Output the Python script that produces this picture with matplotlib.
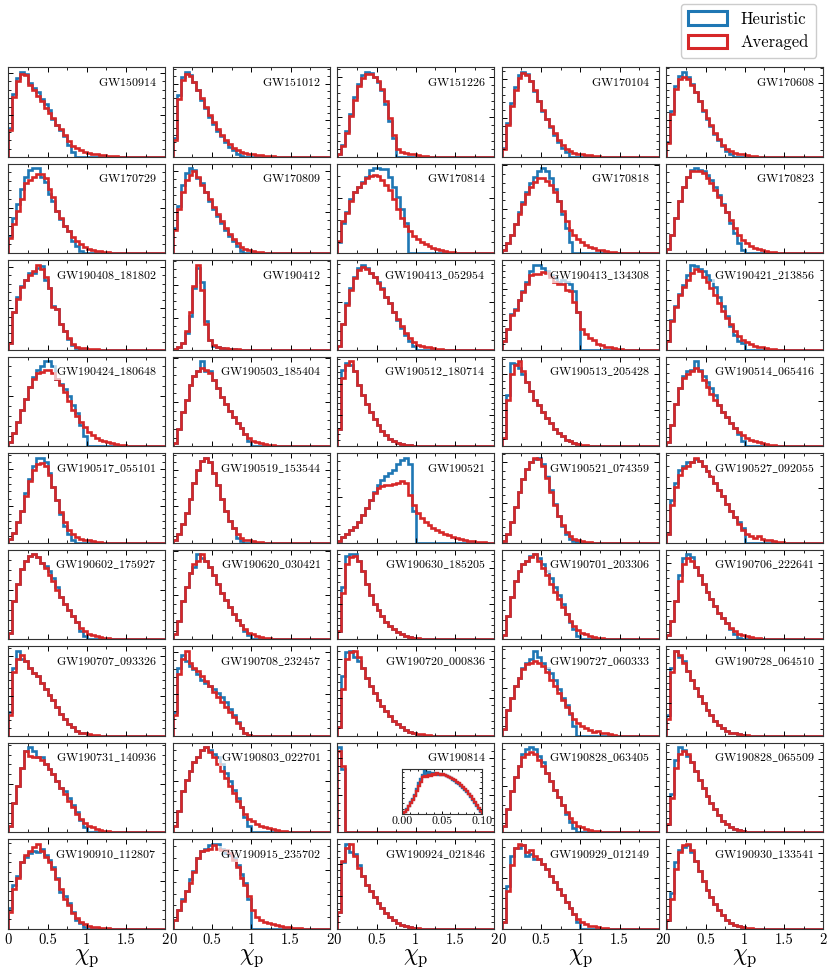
import numpy as np
import matplotlib
matplotlib.use("Agg")
import matplotlib.pyplot as plt
from matplotlib.patches import Patch
from matplotlib.ticker import MultipleLocator, AutoMinorLocator, FuncFormatter, FormatStrFormatter

# ---------------- data (relative bin heights, bins of width 0.05 from 0) ----------------
events = ['GW150914', 'GW151012', 'GW151226', 'GW170104', 'GW170608',
          'GW170729', 'GW170809', 'GW170814', 'GW170818', 'GW170823',
          'GW190408_181802', 'GW190412', 'GW190413_052954', 'GW190413_134308', 'GW190421_213856',
          'GW190424_180648', 'GW190503_185404', 'GW190512_180714', 'GW190513_205428', 'GW190514_065416',
          'GW190517_055101', 'GW190519_153544', 'GW190521', 'GW190521_074359', 'GW190527_092055',
          'GW190602_175927', 'GW190620_030421', 'GW190630_185205', 'GW190701_203306', 'GW190706_222641',
          'GW190707_093326', 'GW190708_232457', 'GW190720_000836', 'GW190727_060333', 'GW190728_064510',
          'GW190731_140936', 'GW190803_022701', 'GW190814', 'GW190828_063405', 'GW190828_065509',
          'GW190910_112807', 'GW190915_235702', 'GW190924_021846', 'GW190929_012149', 'GW190930_133541']

heuristic = [
    [34, 73, 91, 99, 96, 86, 80, 75, 67, 61, 55, 44, 37, 31, 24, 14, 6],
    [22, 72, 94, 100, 96, 88, 78, 67, 57, 47, 39, 31, 24, 17, 12, 8, 4, 1],
    [4, 14, 30, 50, 70, 86, 96, 100, 98, 94, 88, 78, 62, 42, 22],
    [10, 40, 63, 82, 96, 100, 97, 89, 77, 65, 54, 44, 35, 26, 18, 11, 6],
    [18, 55, 85, 98, 103, 96, 88, 78, 67, 56, 46, 37, 28, 20, 13, 7, 3],
    [20, 42, 58, 76, 90, 98, 100, 100, 90, 84, 70, 62, 50, 40, 32, 26, 15, 9, 3],
    [30, 56, 80, 94, 100, 98, 88, 82, 72, 62, 52, 44, 36, 28, 21, 15, 9, 3],
    [13, 36, 48, 64, 72, 78, 84, 90, 98, 100, 100, 99, 99, 90, 78, 66, 52, 36],
    [4, 12, 22, 35, 48, 60, 72, 82, 90, 97, 100, 96, 88, 76, 62, 46, 30, 14],
    [5, 22, 42, 62, 78, 90, 98, 100, 98, 96, 92, 86, 78, 68, 58, 48, 36, 24, 12, 4],
    [8, 45, 62, 75, 82, 90, 90, 96, 98, 82, 72, 52, 48, 30, 22, 13, 6, 2],
    [1, 3, 8, 20, 40, 72, 96, 80, 34, 12, 5, 3, 2, 1.5, 1, 0.7, 0.5, 0.3],
    [5, 30, 55, 72, 86, 96, 100, 96, 90, 85, 80, 72, 62, 55, 45, 35, 26, 17, 10, 5],
    [10.6, 24, 42, 48, 58, 68, 79, 92, 99, 99, 95, 91, 87, 83, 79, 81, 79, 77, 68, 44],
    [10, 35, 52, 66, 76, 88, 100, 98, 95, 92, 88, 82, 74, 62, 52, 40, 28, 18, 10, 8],
    [5, 15, 28, 42, 55, 68, 80, 88, 92, 98, 98, 92, 78, 72, 66, 58, 48, 38, 25, 12],
    [4, 20, 40, 55, 72, 82, 88, 100, 88, 88, 78, 68, 58, 50, 42, 35, 28, 22, 15, 6],
    [20, 90, 98, 95, 88, 72, 60, 50, 40, 32, 25, 18, 13, 9, 6, 4, 3, 2, 1.5, 1],
    [10, 60, 98, 96, 92, 85, 75, 65, 55, 48, 40, 33, 27, 21, 16, 12, 8, 6, 4, 3],
    [5, 25, 50, 68, 82, 88, 90, 100, 90, 82, 75, 68, 60, 48, 40, 34, 28, 22, 15, 6],
    [5, 12, 25, 38, 58, 75, 90, 100, 100, 95, 82, 65, 50, 34, 20, 10, 4],
    [4, 10, 22, 35, 52, 70, 85, 96, 100, 95, 82, 68, 52, 38, 26, 17, 6, 2],
    [2.7, 6.6, 11, 15, 19, 25, 33, 41, 50, 60, 68, 74, 78, 82, 86, 92, 97, 100, 92, 37],
    [2, 10, 25, 42, 60, 75, 87, 95, 98, 100, 92, 78, 62, 46, 32, 20, 11, 5, 2, 1],
    [10, 50, 70, 85, 90, 95, 95, 98, 96, 90, 84, 78, 70, 62, 55, 46, 38, 30, 25, 18],
    [8, 45, 65, 82, 92, 98, 100, 96, 90, 86, 80, 72, 62, 50, 42, 34, 27, 20, 10, 4],
    [6, 22, 45, 62, 78, 85, 100, 95, 92, 85, 75, 65, 55, 46, 38, 30, 23, 17, 10, 5],
    [10, 62, 98, 100, 100, 92, 80, 65, 52, 42, 34, 27, 21, 16, 12, 9, 6, 4, 3, 2],
    [5, 28, 50, 68, 80, 88, 92, 98, 100, 95, 88, 80, 72, 62, 52, 42, 30, 20, 12, 4],
    [5, 22, 45, 75, 95, 100, 96, 85, 75, 65, 56, 47, 39, 31, 25, 19, 12, 6, 2],
    [28, 80, 100, 90, 88, 80, 74, 70, 62, 55, 48, 42, 34, 26, 20, 14, 10, 6, 4, 3],
    [28, 80, 95, 88, 82, 78, 72, 66, 62, 58, 55, 50, 46, 40, 32, 25, 16, 9, 4, 1],
    [10, 70, 98, 100, 92, 88, 80, 68, 58, 50, 42, 35, 29, 23, 18, 14, 10, 7, 5, 3.5],
    [8, 30, 45, 58, 68, 80, 85, 90, 100, 92, 85, 80, 74, 66, 55, 45, 36, 26, 12],
    [25, 80, 100, 92, 88, 76, 66, 56, 47, 39, 31, 24, 18, 13, 9, 6, 4, 3, 2, 1.5],
    [8, 35, 55, 75, 95, 100, 95, 88, 88, 80, 74, 68, 60, 52, 48, 40, 32, 24, 15, 6],
    [8, 25, 48, 62, 72, 82, 88, 96, 100, 96, 92, 88, 80, 70, 60, 50, 40, 30, 18, 8],
    [100, 74],
    [8, 28, 48, 65, 78, 92, 98, 100, 98, 90, 82, 70, 60, 50, 41, 32, 22, 12, 5, 1],
    [10, 45, 85, 100, 96, 90, 82, 72, 62, 52, 43, 35, 27, 20, 14, 10, 6, 4, 2.5, 1.5],
    [24, 50, 61, 77, 83, 87, 89, 88, 92, 85, 79, 71, 59, 42, 38, 30, 20, 10.5, 6.6, 2.7],
    [10.5, 22, 34, 44, 57, 67, 81, 89, 92, 96, 98, 98, 92, 87, 85, 81, 73, 63, 53, 34],
    [20, 78, 100, 90, 88, 75, 62, 52, 45, 38, 31, 25, 19, 14, 10, 7, 5, 3, 2, 1.5],
    [8, 50, 85, 95, 95, 98, 85, 88, 82, 82, 76, 70, 62, 55, 47, 40, 32, 25, 18, 8],
    [10, 42, 78, 92, 96, 98, 90, 80, 68, 56, 46, 37, 29, 22, 16, 11, 7, 5, 3, 2],
]

averaged = [
    [31, 69, 88, 96, 95, 84, 78, 71, 65, 57, 51, 45, 37, 32, 25, 19, 13, 10, 8, 6, 5, 4, 3, 2, 2, 1, 1, 1, 0.5, 0.5],
    [20, 68, 90, 97, 95, 88, 79, 69, 59, 49, 41, 33, 26, 20, 15, 11, 8, 6, 5, 4, 3, 2.5, 2, 1.5, 1, 1, 0.5, 0.5],
    [4, 13, 28, 48, 67, 83, 93, 97, 97, 94, 89, 80, 65, 46, 26, 9, 6, 5, 4, 3, 2, 1.5, 1, 0.5],
    [9, 38, 60, 79, 93, 98, 96, 89, 78, 66, 55, 45, 36, 28, 20, 14, 9, 7, 5, 4, 3, 2.5, 2, 1.5, 1, 0.5, 0.5],
    [17, 52, 82, 94, 97, 94, 87, 78, 68, 57, 47, 38, 29, 22, 15, 10, 7, 5, 4, 3, 2, 1.5, 1, 0.5],
    [18, 34, 50, 64, 82, 86, 90, 93, 93, 88, 76, 66, 50, 42, 32, 26, 19, 15, 11, 8, 5.5, 4.4, 3.2, 2.4, 1.6, 1.2, 0.8, 0.5, 0.3],
    [28, 52, 72, 86, 92, 96, 90, 80, 72, 64, 54, 46, 38, 30, 23, 17, 12, 8, 5.5, 4, 2.8, 2, 1.2, 0.8, 0.5, 0.3],
    [15, 38, 47, 62, 72, 78, 83, 88, 91, 92, 91, 86, 80, 74, 64, 52, 42, 32, 26, 21, 17, 13.5, 10.7, 8.7, 6.7, 5.2, 4, 2.8, 2, 1.2, 0.8, 0.5],
    [4, 12, 22, 34, 46, 58, 70, 78, 84, 88, 88, 85, 80, 72, 62, 50, 38, 28, 22, 17, 13, 10, 8, 6, 4.5, 3.5, 2.5, 2, 1.5, 1, 0.5, 0.3],
    [5, 22, 42, 62, 78, 89, 96, 97, 96, 94, 88, 82, 74, 66, 57, 48, 39, 30, 22, 16, 12, 9, 7, 5, 4, 3, 2, 1.5, 1, 0.5],
    [8, 44, 60, 74, 82, 88, 92, 100, 95, 85, 72, 50, 48, 30, 22, 14, 7, 4, 2.5, 2, 1.5, 1, 0.8, 0.5],
    [1, 3, 8, 22, 45, 75, 100, 70, 30, 12, 6, 3.5, 2.5, 2, 1.5, 1, 0.7, 0.5, 0.3, 0.2],
    [5, 30, 53, 70, 84, 94, 97, 95, 90, 85, 79, 71, 62, 55, 45, 36, 28, 20, 14, 9, 6, 5, 4, 3, 2, 1.5, 1, 0.5],
    [10, 24, 40, 46, 58, 67, 77, 87, 88, 88, 90, 89, 85, 79, 77, 77, 70, 68, 56, 44, 24, 18.5, 14, 11, 7.5, 5.5, 4, 3, 2, 1.5, 1, 0.5],
    [10, 34, 50, 64, 74, 82, 90, 95, 92, 86, 80, 72, 64, 55, 46, 38, 30, 22, 16, 12, 9, 7, 5, 4, 3, 2, 1.5, 1, 0.5],
    [5, 15, 28, 42, 55, 68, 78, 84, 86, 88, 88, 84, 78, 70, 62, 52, 42, 35, 28, 22, 17, 13, 10, 8, 6, 5, 4, 3, 2, 1.5, 1, 0.5],
    [4, 20, 40, 55, 72, 82, 88, 92, 90, 86, 78, 68, 58, 50, 42, 35, 28, 22, 15, 10, 7, 5, 4, 3, 2, 1.5, 1, 0.5],
    [20, 80, 95, 100, 88, 72, 60, 50, 40, 32, 25, 18, 13, 9, 6, 4, 3, 2, 1.5, 1, 1, 0.5, 0.5],
    [10, 55, 85, 95, 100, 88, 75, 65, 55, 48, 40, 33, 27, 21, 16, 12, 8, 6, 4, 3, 2, 1.5, 1, 0.5],
    [5, 25, 50, 68, 80, 85, 88, 92, 88, 78, 70, 62, 55, 48, 40, 34, 28, 22, 17, 13, 10, 8, 6, 5, 4, 3, 2, 1.5, 1, 0.5],
    [5, 12, 25, 38, 55, 72, 85, 92, 94, 90, 80, 65, 50, 36, 24, 15, 10, 7, 5, 4, 3, 2, 1.5, 1, 0.5],
    [4, 10, 22, 35, 52, 70, 85, 96, 100, 95, 82, 68, 52, 38, 26, 17, 10, 6, 4, 3, 2, 1.5, 1, 0.5],
    [2.7, 6.6, 11, 15, 19, 25, 33, 41, 50, 58, 64, 67, 68, 68, 69, 70, 72, 70, 56, 44, 35, 29, 25, 21, 17, 15, 13, 11, 9.4, 7.4, 5.5, 4.3, 3.5, 2.7, 2, 1.6, 1.2, 0.8, 0.4],
    [2, 10, 25, 42, 60, 75, 87, 95, 100, 98, 90, 76, 60, 45, 32, 21, 13, 8, 5, 3, 2, 1.5, 1, 0.5],
    [10, 45, 65, 80, 88, 90, 95, 100, 96, 90, 84, 78, 70, 62, 55, 46, 38, 30, 22, 15, 10, 8, 6, 8, 5, 4, 3, 2, 1.5, 1],
    [8, 45, 65, 82, 92, 98, 100, 96, 90, 84, 76, 68, 58, 50, 42, 34, 27, 20, 14, 10, 7, 5, 4, 3, 2, 1.5, 1, 0.5],
    [6, 22, 45, 62, 78, 88, 92, 100, 92, 85, 75, 65, 55, 46, 38, 30, 23, 17, 12, 8, 6, 4, 3, 2, 1.5, 1, 0.5],
    [10, 55, 88, 96, 98, 92, 80, 65, 52, 42, 34, 27, 21, 16, 12, 9, 6, 4, 3, 2, 1.5, 1, 0.5],
    [5, 28, 50, 68, 80, 88, 92, 96, 100, 92, 84, 75, 65, 56, 47, 38, 30, 22, 16, 11, 8, 6, 4, 3, 2, 1.5, 1, 0.5],
    [5, 22, 45, 68, 88, 95, 92, 85, 75, 65, 56, 47, 39, 31, 25, 19, 14, 10, 7, 5, 4, 3, 2, 1.5, 1, 0.5],
    [25, 75, 90, 95, 88, 80, 74, 70, 62, 55, 48, 42, 34, 26, 20, 14, 10, 6, 4, 3, 2, 1.5, 1, 0.5],
    [25, 72, 90, 100, 85, 80, 76, 70, 64, 58, 52, 46, 40, 34, 28, 22, 15, 9, 4, 1.5, 0.5],
    [10, 55, 90, 98, 100, 92, 80, 68, 58, 50, 42, 35, 29, 23, 18, 14, 10, 7, 5, 3.5, 2.5, 2, 1.5, 1, 0.5],
    [8, 30, 45, 58, 68, 78, 84, 86, 88, 86, 82, 75, 66, 58, 50, 42, 34, 27, 20, 15, 12, 9, 7, 5, 6, 4, 3, 2, 1],
    [20, 75, 100, 95, 85, 76, 66, 56, 47, 39, 31, 24, 18, 13, 9, 6, 4, 3, 2, 1.5, 1, 0.5],
    [8, 35, 55, 75, 95, 90, 88, 88, 85, 80, 74, 68, 60, 52, 45, 37, 30, 22, 16, 11, 8, 6, 4, 3, 2, 1.5, 1],
    [8, 25, 48, 62, 72, 82, 88, 96, 100, 94, 88, 80, 72, 64, 55, 46, 37, 30, 22, 16, 13, 10, 8, 6, 5, 4, 3, 2, 1.5, 1],
    [95, 78],
    [8, 28, 48, 65, 78, 88, 92, 94, 92, 85, 78, 70, 60, 50, 41, 32, 24, 17, 12, 8, 6, 4, 3, 2, 1.5, 1],
    [10, 40, 75, 92, 95, 92, 82, 72, 62, 52, 43, 35, 27, 20, 14, 10, 6, 4, 2.5, 1.5, 1, 0.5],
    [20, 46, 59, 77, 85, 90, 94, 98, 89, 83, 77, 69, 57, 46, 34, 28, 18, 12.5, 8.6, 5.5, 3.9, 2.7, 2, 1.6, 1.2, 0.8, 0.5, 0.3],
    [10.5, 22, 32, 44, 53, 65, 81, 89, 91, 92, 96, 92, 91, 91, 87, 79, 71, 59, 51, 38, 22, 13.7, 10.5, 8.6, 6.6, 5.5, 4.3, 3.1, 2.3, 2, 1.6, 1.2, 0.8, 0.4],
    [20, 80, 95, 100, 85, 72, 62, 52, 45, 38, 31, 25, 19, 14, 10, 7, 5, 3, 2, 1.5, 1, 0.5],
    [8, 45, 75, 95, 100, 98, 90, 92, 86, 82, 76, 70, 62, 55, 47, 40, 32, 25, 18, 12, 8, 6, 4, 3, 2, 1.5, 1],
    [10, 35, 70, 90, 98, 100, 92, 80, 68, 56, 46, 37, 29, 22, 16, 11, 7, 5, 3, 2, 1.5, 1, 0.5],
]

# GW190814 inset: bins of width 0.0025 over [0, 0.1]
inset_heuristic = [2, 5, 12, 20, 28, 35, 45, 58, 72, 82, 92, 100, 95, 99, 94, 97, 93, 95, 92, 93,
                   92, 91, 89, 87, 84, 81, 78, 74, 70, 66, 62, 57, 52, 46, 40, 34, 27, 20, 12, 5]
inset_averaged = [2, 4, 10, 18, 26, 33, 42, 54, 66, 76, 86, 90, 88, 92, 89, 94, 91, 96, 93, 92,
                  94, 91, 90, 88, 85, 83, 80, 76, 72, 68, 64, 59, 54, 48, 42, 36, 29, 22, 13, 6]

series_labels = ['Heuristic', 'Averaged']
xtick_values = [0, 0.5, 1, 1.5, 2]
inset_xticks = [0.0, 0.05, 0.10]

# ---------------- style ----------------
BLUE = '#1f77b4'
RED = '#d62728'
LW = 1.9

plt.rcParams.update({
    'font.family': 'serif',
    'font.serif': ['cmr10'],
    'mathtext.fontset': 'cm',
    'axes.formatter.use_mathtext': True,
    'axes.unicode_minus': False,
    'xtick.direction': 'in', 'ytick.direction': 'in',
    'xtick.top': True, 'ytick.right': True,
    'xtick.major.size': 3.5, 'ytick.major.size': 3.5,
    'xtick.minor.size': 2.0, 'ytick.minor.size': 2.0,
    'xtick.major.width': 0.7, 'ytick.major.width': 0.7,
    'xtick.minor.width': 0.6, 'ytick.minor.width': 0.6,
    'axes.linewidth': 0.8,
    'axes.edgecolor': '#333333',
})

fig = plt.figure(figsize=(8.31, 9.71), dpi=100)
gs = fig.add_gridspec(9, 5, left=8.3 / 831, right=823.3 / 831, top=1 - 67.3 / 971,
                      bottom=1 - 929 / 971, wspace=0.048, hspace=0.076)

nbins = 40
edges = np.linspace(0, 2, nbins + 1)

for i, name in enumerate(events):
    r, c = divmod(i, 5)
    ax = fig.add_subplot(gs[r, c])
    h = np.zeros(nbins)
    h[:len(heuristic[i])] = heuristic[i]
    a = np.zeros(nbins)
    a[:len(averaged[i])] = averaged[i]
    norm = h.sum() * (edges[1] - edges[0])
    h = h / norm
    a = a / norm
    ax.stairs(h, edges, color=BLUE, lw=LW, baseline=0)
    ax.stairs(a, edges, color=RED, lw=LW, baseline=0)
    ax.set_xlim(0, 2)
    ax.set_ylim(0, 1.05 * max(h.max(), a.max()))
    ax.xaxis.set_major_locator(MultipleLocator(0.5))
    ax.xaxis.set_minor_locator(MultipleLocator(0.25))
    ax.yaxis.set_minor_locator(AutoMinorLocator())
    ax.tick_params(which='both', labelleft=False, labelright=False, labeltop=False)
    if r == 8:
        ax.set_xticks(xtick_values)
        ax.xaxis.set_major_formatter(FuncFormatter(lambda v, p: '%g' % v))
        ax.tick_params(axis='x', labelsize=10.5, pad=3)
        ax.set_xlabel(r'$\chi_\mathrm{p}$', fontsize=17, labelpad=0)
    else:
        ax.tick_params(labelbottom=False)
    ax.text(0.945, 0.905, r'$\mathrm{' + name.replace('_', r'\_') + '}$',
            transform=ax.transAxes, ha='right', va='top', fontsize=8.6, zorder=5,
            bbox=dict(boxstyle='square,pad=0.15', fc='white', ec='none', alpha=0.7))

    if name == 'GW190814':
        ins = ax.inset_axes([0.41, 0.206, 0.51, 0.498])
        iedges = np.linspace(0, 0.1, len(inset_heuristic) + 1)
        ih = np.array(inset_heuristic, float)
        ia = np.array(inset_averaged, float)
        inorm = ih.sum() * (iedges[1] - iedges[0])
        ins.stairs(ih / inorm, iedges, color=BLUE, lw=1.7, baseline=0)
        ins.stairs(ia / inorm, iedges, color=RED, lw=1.7, baseline=0)
        ins.set_xlim(0, 0.1)
        ins.set_ylim(0, 1.05 * max(ih.max(), ia.max()) / inorm)
        ins.set_xticks(inset_xticks)
        ins.xaxis.set_major_formatter(FormatStrFormatter('%.2f'))
        ins.xaxis.set_minor_locator(AutoMinorLocator())
        ins.yaxis.set_minor_locator(AutoMinorLocator())
        ins.tick_params(which='both', labelleft=False, labelsize=8.5, pad=2)
        ins.tick_params(which='major', length=2.5)
        ins.tick_params(which='minor', length=1.5)

handles = [Patch(facecolor='white', edgecolor=BLUE, lw=2.2, label=series_labels[0]),
           Patch(facecolor='white', edgecolor=RED, lw=2.2, label=series_labels[1])]
fig.legend(handles=handles, loc='upper right', bbox_to_anchor=(816 / 831, 1 - 4 / 971),
           fontsize=12, handlelength=2.3, handleheight=0.85, labelspacing=0.45,
           handletextpad=0.8, borderpad=0.45, borderaxespad=0.0,
           framealpha=1.0, edgecolor='#cccccc')

fig.savefig('out.png', dpi=100)
